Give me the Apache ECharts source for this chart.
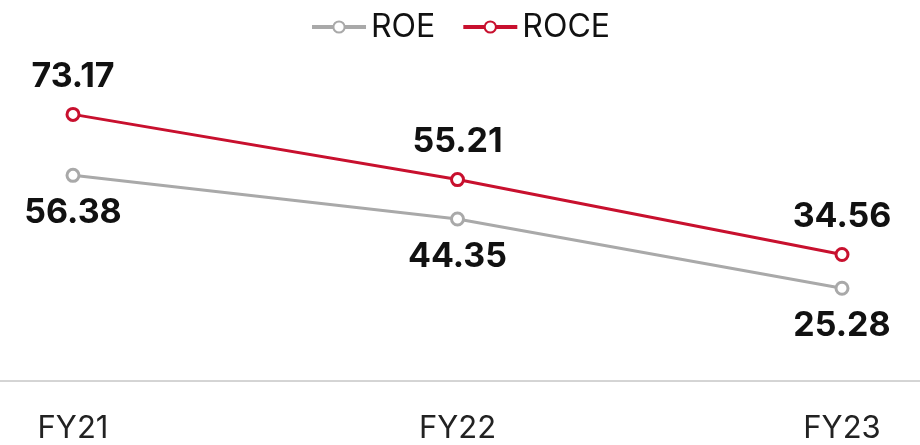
<!DOCTYPE html>
<html><head><meta charset="utf-8">
<script src="https://cdn.jsdelivr.net/npm/echarts@6/dist/echarts.min.js"></script>
<style>html,body{margin:0;padding:0;background:#fff}#c{width:920px;height:445px}</style>
</head><body><div id="c"></div>
<script>
const categories = ['FY21', 'FY22', 'FY23'];
const roe = [56.38, 44.35, 25.28];
const roce = [73.17, 55.21, 34.56];

const chart = echarts.init(document.getElementById('c'), null, {renderer: 'canvas'});
const FONT = 'Inter, Roboto, sans-serif';
function series(name, data, color, pos) {
  return {
    name: name, type: 'line', data: data,
    symbol: 'circle', symbolSize: 12,
    lineStyle: {color: color, width: 3},
    itemStyle: {color: '#fff', borderWidth: 3, borderColor: color},
    label: {show: true, position: pos, distance: 13, color: '#111', fontSize: 34, fontWeight: 'bold', fontFamily: FONT,
      formatter: p => p.value.toFixed(2)},
    emphasis: {disabled: true}
  };
}
chart.setOption({
  animation: false,
  backgroundColor: '#fff',
  color: ['#a9a9a9', '#c8102e'],
  legend: {
    top: 6, left: 'center', itemWidth: 54, itemHeight: 14, itemGap: 26,
    textStyle: {fontSize: 32, color: '#111', fontFamily: FONT},
    lineStyle: {width: 4},
    data: ['ROE', 'ROCE']
  },
  grid: {left: 73, right: 78, top: 17, bottom: 65},
  xAxis: {
    type: 'category', data: categories, boundaryGap: false,
    axisLine: {show: false}, axisTick: {show: false},
    axisLabel: {fontSize: 31, color: '#222', margin: 33, fontFamily: FONT}
  },
  yAxis: {type: 'value', min: 0, max: 100, show: false, splitLine: {show: false}},
  graphic: [{type: 'line', shape: {x1: 0, y1: 381, x2: 920, y2: 381}, style: {stroke: '#aaa', lineWidth: 1}}],
  series: [
    series('ROE', roe, '#a9a9a9', 'bottom'),
    series('ROCE', roce, '#c8102e', 'top')
  ]
});
</script></body></html>
